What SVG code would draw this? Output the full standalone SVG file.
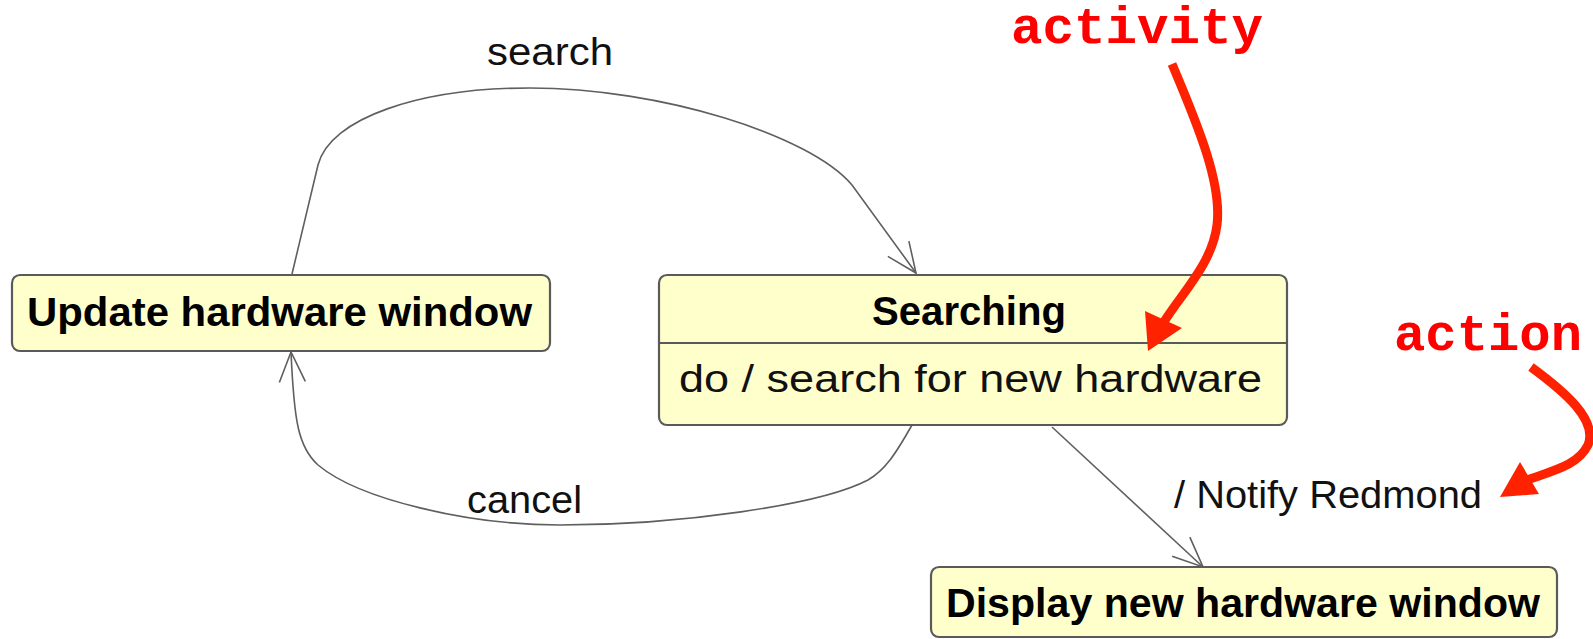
<svg xmlns="http://www.w3.org/2000/svg" width="1593" height="639" viewBox="0 0 1593 639">
<style>
.box{fill:#ffffcc;stroke:#5a5a5a;stroke-width:2.2}
.bold{font-family:"Liberation Sans",Arial,sans-serif;font-weight:bold;font-size:40px;fill:#000}
.reg{font-family:"Liberation Sans",Arial,sans-serif;font-size:38px;fill:#111}
.conn{fill:none;stroke:#5f5f5f;stroke-width:1.6}
.red{font-family:"Liberation Mono","Courier New",monospace;font-weight:bold;font-size:52px;fill:#ff0000}
.redline{fill:none;stroke:#ff2200;stroke-width:9;stroke-linecap:butt}
.redhead{fill:#ff2200}
</style>
<defs>
<marker id="open" viewBox="0 0 32 32" refX="31" refY="16" markerWidth="32" markerHeight="32" markerUnits="userSpaceOnUse" orient="auto">
<path d="M1,3 L31,16 L1,29" fill="none" stroke="#5f5f5f" stroke-width="1.6"/>
</marker>
</defs>
<rect width="1593" height="639" fill="#ffffff"/>
<g id="connectors">
<path class="conn" d="M292,274 L318,165 C330,118 420,88 530,88 C660,88 810,135 852,185 L916,273" marker-end="url(#open)"/>
<path class="conn" d="M912,425 C895,455 885,470 868,480 C820,505 680,525 560,525 C470,525 360,500 318,465 C298,447 294,420 291,352" marker-end="url(#open)"/>
<path class="conn" d="M1052,427 L1203,567" marker-end="url(#open)"/>
<text class="reg" x="487" y="65" textLength="126" lengthAdjust="spacingAndGlyphs">search</text>
<text class="reg" x="467" y="513" textLength="115" lengthAdjust="spacingAndGlyphs">cancel</text>
<text class="reg" x="1174" y="508" textLength="308" lengthAdjust="spacingAndGlyphs">/ Notify Redmond</text>
</g>
<g id="update">
<rect class="box" x="12" y="275" width="538" height="76" rx="8"/>
<text class="bold" x="27" y="326" textLength="505" lengthAdjust="spacingAndGlyphs">Update hardware window</text>
</g>
<g id="searching">
<rect class="box" x="659" y="275" width="628" height="150" rx="8"/>
<line x1="659" y1="343" x2="1287" y2="343" stroke="#5a5a5a" stroke-width="2.2"/>
<text class="bold" x="872" y="325" textLength="194" lengthAdjust="spacingAndGlyphs">Searching</text>
<text class="reg" x="679" y="392" textLength="583" lengthAdjust="spacingAndGlyphs">do / search for new hardware</text>
</g>
<g id="display">
<rect class="box" x="931" y="567" width="626" height="70" rx="8"/>
<text class="bold" x="946" y="617" textLength="594" lengthAdjust="spacingAndGlyphs">Display new hardware window</text>
</g>
<g id="annotations">
<text class="red" x="1011" y="43" textLength="252" lengthAdjust="spacingAndGlyphs">activity</text>
<path class="redline" d="M1172,64 C1200,130 1222,185 1217,225 C1212,265 1180,295 1162,325"/>
<polygon class="redhead" points="1148,351 1145,311 1182,328"/>
<text class="red" x="1394" y="350" textLength="188" lengthAdjust="spacingAndGlyphs">action</text>
<path class="redline" d="M1531,367 C1565,392 1598,420 1588,445 C1578,465 1555,470 1527,480"/>
<polygon class="redhead" points="1500,497 1520,462 1539,494"/>
</g>
</svg>
